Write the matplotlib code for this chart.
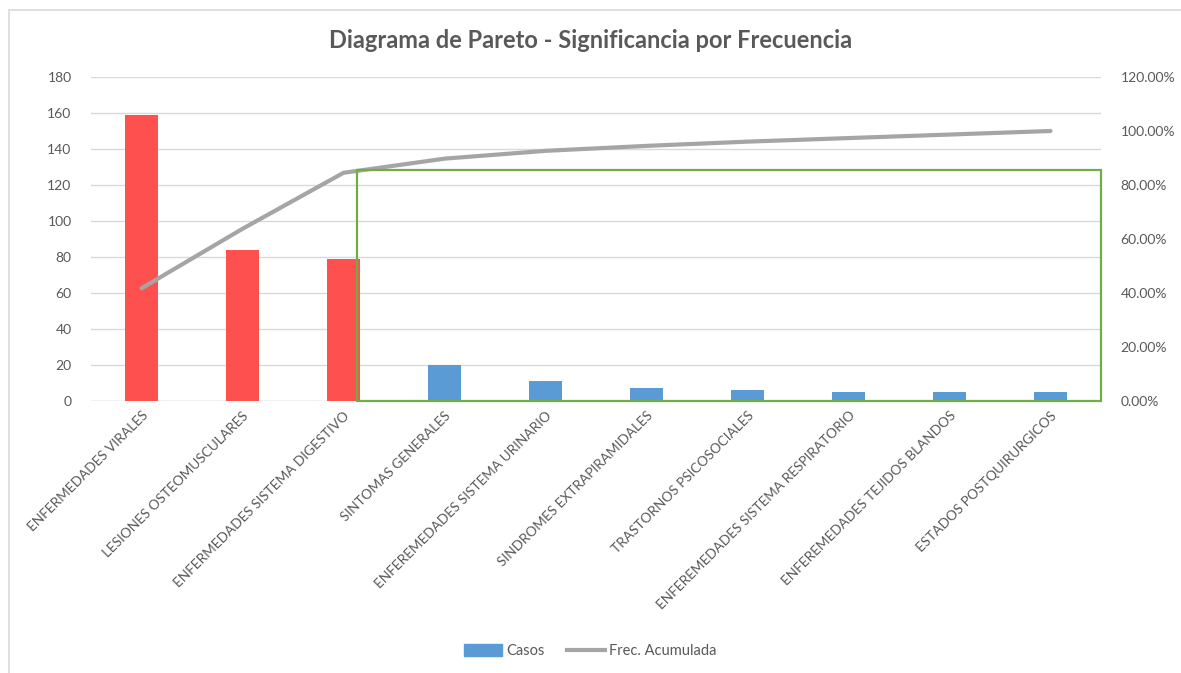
import matplotlib
matplotlib.use("Agg")
import matplotlib.pyplot as plt
from matplotlib.patches import Rectangle, Patch
from matplotlib.lines import Line2D
from matplotlib.ticker import FuncFormatter
from matplotlib.transforms import ScaledTranslation
import numpy as np

categorias = [
    "ENFERMEDADES VIRALES",
    "LESIONES OSTEOMUSCULARES",
    "ENFERMEDADES SISTEMA DIGESTIVO",
    "SINTOMAS GENERALES",
    "ENFEREMEDADES SISTEMA URINARIO",
    "SINDROMES EXTRAPIRAMIDALES",
    "TRASTORNOS PSICOSOCIALES",
    "ENFEREMEDADES SISTEMA RESPIRATORIO",
    "ENFEREMEDADES TEJIDOS BLANDOS",
    "ESTADOS POSTQUIRURGICOS",
]
casos = [159, 84, 79, 20, 11, 7, 6, 5, 5, 5]
vitales = [True, True, True, False, False, False, False, False, False, False]

plt.rcParams["font.family"] = ["Lato", "DejaVu Sans"]
GRIS_TEXTO = "#595959"

frec_acum = np.cumsum(casos) / sum(casos)
x = np.arange(len(categorias))
colores = ["#FF5050" if v else "#5B9BD5" for v in vitales]

fig = plt.figure(figsize=(11.81, 6.73), dpi=100)
fig.patches.append(Rectangle((9 / 1181, -0.01), 1.2, 1 - 10 / 673 + 0.01,
                             transform=fig.transFigure, fill=False,
                             edgecolor="#D9D9D9", lw=1.2))

ax = fig.add_axes([91 / 1181, 1 - 401 / 673, (1101 - 91) / 1181, (401 - 77) / 673])
ax2 = ax.twinx()

ax.bar(x, casos, width=0.32, color=colores, zorder=2)
ax.set_xlim(-0.5, len(categorias) - 0.5)
ax.set_ylim(0, 180)
ax.set_yticks(range(0, 181, 20))
ax.grid(axis="y", color="#D9D9D9", lw=1, zorder=0)
ax.set_axisbelow(True)
ax.set_xticks(x)
ax.set_xticklabels(categorias, rotation=45, ha="right", va="top",
                   rotation_mode="anchor", fontsize=9.8, color=GRIS_TEXTO)
desplaza = ScaledTranslation(-5 / 100, 0, fig.dpi_scale_trans)
for lbl in ax.get_xticklabels():
    lbl.set_transform(lbl.get_transform() + desplaza)
ax.tick_params(axis="x", length=0, pad=6)
ax.tick_params(axis="y", length=0, labelsize=10, labelcolor=GRIS_TEXTO, pad=14)

ax2.plot(x, frec_acum, color="#A5A5A5", lw=3, solid_capstyle="round", zorder=3)
ax2.set_ylim(0, 1.2)
ax2.set_yticks(np.arange(0, 1.21, 0.2))
ax2.yaxis.set_major_formatter(FuncFormatter(lambda v, p: f"{v * 100:.2f}%"))
ax2.tick_params(axis="y", length=0, labelsize=10, labelcolor=GRIS_TEXTO, pad=14)

for a in (ax, ax2):
    for s in a.spines.values():
        s.set_visible(False)
ax.axhline(0, color="#D9D9D9", lw=1, zorder=1)

# recuadro de los casos triviales
ax2.add_patch(Rectangle((2.13, 0), len(categorias) - 0.5 - 2.13, 0.855,
                        fill=False, edgecolor="#70AD47", lw=1.6, zorder=4,
                        clip_on=False))

fig.text(0.5, 1 - 40 / 673, "Diagrama de Pareto - Significancia por Frecuencia",
         ha="center", va="center", fontsize=17, fontweight="bold", color=GRIS_TEXTO)

handles = [Patch(color="#5B9BD5", label="Casos"),
           Line2D([], [], color="#A5A5A5", lw=3, label="Frec. Acumulada")]
fig.legend(handles=handles, loc="center", bbox_to_anchor=(0.5, 1 - 651 / 673),
           ncol=2, frameon=False, fontsize=10.5, labelcolor=GRIS_TEXTO,
           handlelength=2.6, handleheight=0.8, columnspacing=1.5, handletextpad=0.3)

fig.savefig("out.png", dpi=100)
